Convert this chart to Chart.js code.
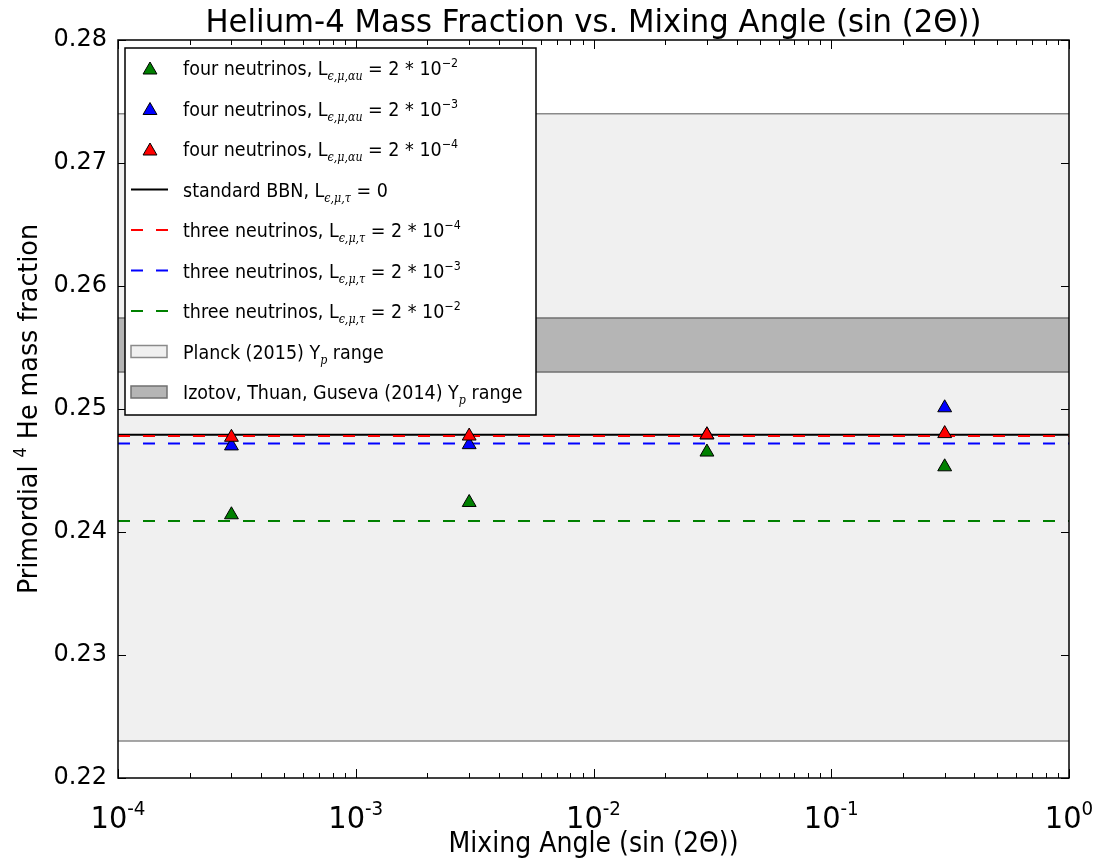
<!DOCTYPE html>
<html>
<head>
<meta charset="utf-8">
<script src="https://cdn.jsdelivr.net/npm/chart.js@4.4.1/dist/chart.umd.min.js"></script>
<style>
  html, body { margin: 0; padding: 0; background: #fff; }
  #wrap { width: 1096px; height: 861px; }
</style>
</head>
<body>
<div id="wrap"><canvas id="chart"></canvas></div>
<script>
// mixing angle sin(2θ) for the four-neutrino runs
const mixingAngles = [3e-4, 3e-3, 3e-2, 3e-1]
const fourNuL2e2 = [0.2414, 0.2424, 0.2465, 0.2453]
const fourNuL2e3 = [0.2470, 0.2471, 0.2479, 0.2501]
const fourNuL2e4 = [0.2477, 0.2478, 0.2479, 0.2480]

// horizontal reference values
const standardBBN = 0.2479
const threeNuL2e4 = 0.2478
const threeNuL2e3 = 0.2472
const threeNuL2e2 = 0.2409
const planckRange = [0.223, 0.274]
const izotovRange = [0.2530, 0.2574]
const xRange = [1e-4, 1]

const yTicks = [0.22, 0.23, 0.24, 0.25, 0.26, 0.27, 0.28]
const yTickLabels = ['0.22', '0.23', '0.24', '0.25', '0.26', '0.27', '0.28']
const xTicks = [1e-4, 1e-3, 1e-2, 1e-1, 1]
const xTickExponents = ['-4', '-3', '-2', '-1', '0']

const title = 'Helium-4 Mass Fraction vs. Mixing Angle (sin (2Θ))'
const xTitle = 'Mixing Angle (sin (2Θ))'
const yTitle = 'Primordial ^{4} He mass fraction'
const legendLabels = [
  'four neutrinos, L_{ϵ,μ,αu} = 2 * 10^{−2}',
  'four neutrinos, L_{ϵ,μ,αu} = 2 * 10^{−3}',
  'four neutrinos, L_{ϵ,μ,αu} = 2 * 10^{−4}',
  'standard BBN, L_{ϵ,μ,τ} = 0',
  'three neutrinos, L_{ϵ,μ,τ} = 2 * 10^{−4}',
  'three neutrinos, L_{ϵ,μ,τ} = 2 * 10^{−3}',
  'three neutrinos, L_{ϵ,μ,τ} = 2 * 10^{−2}',
  'Planck (2015) Y_{p} range',
  'Izotov, Thuan, Guseva (2014) Y_{p} range'
]

const GREEN = '#008000'
const BLUE = '#0000ff'
const RED = '#ff0000'
const PLANCK_FILL = '#f0f0f0'
const PLANCK_EDGE = '#8a8a8a'
const IZOTOV_FILL = '#b5b5b5'
const IZOTOV_EDGE = '#707070'
const DASH = [12, 13]
const FONT = '"DejaVu Sans"'

const hline = (y) => xRange.map((x) => ({ x, y }))
const points = (ys) => mixingAngles.map((x, i) => ({ x, y: ys[i] }))

function lineSet (label, y, color, dash, order) {
  return {
    label,
    data: hline(y),
    showLine: true,
    borderColor: color,
    borderWidth: 2,
    borderDash: dash,
    pointRadius: 0,
    fill: false,
    order
  }
}

function bandSet (label, y, edge, fill, order) {
  return {
    label,
    data: hline(y),
    showLine: true,
    borderColor: edge,
    borderWidth: 1.5,
    backgroundColor: fill,
    pointRadius: 0,
    fill: fill ? '+1' : false,
    order
  }
}

function markerSet (label, ys, color, order) {
  return {
    label,
    data: points(ys),
    pointStyle: 'triangle',
    pointRadius: 8,
    pointHoverRadius: 8,
    backgroundColor: color,
    borderColor: '#000',
    borderWidth: 1,
    order
  }
}

// ---- rich text helpers (sub/superscripts, horizontal squeeze) ----
function parseRich (s) {
  const runs = []
  const re = /([_^])\{([^}]*)\}/g
  let last = 0
  let m
  while ((m = re.exec(s))) {
    if (m.index > last) runs.push({ text: s.slice(last, m.index), kind: 'n' })
    runs.push({ text: m[2], kind: m[1] === '_' ? 'sub' : 'sup' })
    last = re.lastIndex
  }
  if (last < s.length) runs.push({ text: s.slice(last), kind: 'n' })
  return runs
}

function runFont (kind, size) {
  if (kind === 'sub') return `italic ${Math.round(size * 0.62)}px "DejaVu Serif"`
  if (kind === 'sup') return `${Math.round(size * 0.62)}px ${FONT}`
  return `${size}px ${FONT}`
}

function runShift (kind, size) {
  if (kind === 'sub') return size * 0.28
  if (kind === 'sup') return -size * 0.42
  return 0
}

function measureRich (ctx, runs, size) {
  let w = 0
  for (const r of runs) {
    ctx.font = runFont(r.kind, size)
    w += ctx.measureText(r.text).width
  }
  return w
}

// draws runs starting at x (left), baseline y, squeezed by sx
function drawRich (ctx, runs, x, y, size, sx, color) {
  ctx.save()
  ctx.translate(x, y)
  ctx.scale(sx, 1)
  ctx.fillStyle = color || '#000'
  ctx.textAlign = 'left'
  ctx.textBaseline = 'alphabetic'
  let cx = 0
  for (const r of runs) {
    ctx.font = runFont(r.kind, size)
    ctx.fillText(r.text, cx, runShift(r.kind, size))
    cx += ctx.measureText(r.text).width
  }
  ctx.restore()
}

const decor = {
  id: 'decor',
  beforeDraw (chart) {
    const ctx = chart.ctx
    ctx.save()
    ctx.fillStyle = '#fff'
    ctx.fillRect(0, 0, chart.width, chart.height)
    ctx.restore()
  },
  afterDraw (chart) {
    const ctx = chart.ctx
    const { left, right, top, bottom } = chart.chartArea
    const xs = chart.scales.x
    const ys = chart.scales.y

    ctx.save()
    // ticks, pointing inwards on all four sides
    ctx.strokeStyle = '#000'
    ctx.lineWidth = 1
    ctx.beginPath()
    yTicks.forEach((v) => {
      const py = Math.round(ys.getPixelForValue(v)) + 0.5
      ctx.moveTo(left, py); ctx.lineTo(left + 8, py)
      ctx.moveTo(right, py); ctx.lineTo(right - 8, py)
    })
    for (let d = -4; d <= 0; d++) {
      for (let k = 1; k <= 9; k++) {
        const v = k * Math.pow(10, d)
        if (v > xRange[1]) break
        const px = Math.round(xs.getPixelForValue(v)) + 0.5
        const len = k === 1 ? 9 : 5
        ctx.moveTo(px, bottom); ctx.lineTo(px, bottom - len)
        ctx.moveTo(px, top); ctx.lineTo(px, top + len)
      }
    }
    ctx.stroke()

    // frame
    ctx.lineWidth = 1.5
    ctx.strokeRect(left, top, right - left, bottom - top)

    // y tick labels
    ctx.fillStyle = '#000'
    ctx.font = `24px ${FONT}`
    ctx.textAlign = 'right'
    ctx.textBaseline = 'middle'
    yTicks.forEach((v, i) => {
      ctx.fillText(yTickLabels[i], left - 11, ys.getPixelForValue(v))
    })

    // x tick labels: 10^n
    const xRuns = xTickExponents.map((e) => parseRich(`10^{${e}}`))
    const xSize = 30
    const xSx = 55 / measureRich(ctx, xRuns[0], xSize)
    xTicks.forEach((v, i) => {
      const w = measureRich(ctx, xRuns[i], xSize) * xSx
      drawRich(ctx, xRuns[i], xs.getPixelForValue(v) - w / 2, bottom + 50, xSize, xSx)
    })

    // title and axis titles
    const tRuns = parseRich(title)
    const tSx = 776 / measureRich(ctx, tRuns, 32)
    drawRich(ctx, tRuns, (left + right) / 2 - 388, 32, 32, tSx)

    const xtRuns = parseRich(xTitle)
    const xtSx = 290 / measureRich(ctx, xtRuns, 29)
    drawRich(ctx, xtRuns, (left + right) / 2 - 145, 852, 29, xtSx)

    const ytRuns = parseRich(yTitle)
    const ytSx = 370 / measureRich(ctx, ytRuns, 27)
    ctx.save()
    ctx.translate(37, (top + bottom) / 2)
    ctx.rotate(-Math.PI / 2)
    drawRich(ctx, ytRuns, -185, 0, 27, ytSx)
    ctx.restore()

    // legend
    const lx = 125
    const ly = 48
    const lw = 411
    const lh = 367
    ctx.fillStyle = '#fff'
    ctx.fillRect(lx, ly, lw, lh)
    ctx.strokeStyle = '#000'
    ctx.lineWidth = 1.5
    ctx.strokeRect(lx, ly, lw, lh)

    const handles = [
      { type: 'marker', color: GREEN },
      { type: 'marker', color: BLUE },
      { type: 'marker', color: RED },
      { type: 'line', color: '#000', dash: [] },
      { type: 'line', color: RED, dash: DASH },
      { type: 'line', color: BLUE, dash: DASH },
      { type: 'line', color: GREEN, dash: DASH },
      { type: 'patch', fill: PLANCK_FILL, edge: PLANCK_EDGE },
      { type: 'patch', fill: IZOTOV_FILL, edge: IZOTOV_EDGE }
    ]
    const lSize = 19
    const lRuns = legendLabels.map(parseRich)
    const lSx = 275 / measureRich(ctx, lRuns[0], lSize)
    lRuns.forEach((runs, i) => {
      const cy = 68 + i * 40.5
      const h = handles[i]
      ctx.save()
      if (h.type === 'marker') {
        ctx.fillStyle = h.color
        ctx.strokeStyle = '#000'
        ctx.lineWidth = 1
        Chart.helpers.drawPoint(ctx, { pointStyle: 'triangle', radius: 8, borderWidth: 1 }, 150, cy + 2)
      } else if (h.type === 'line') {
        ctx.strokeStyle = h.color
        ctx.lineWidth = 2
        ctx.setLineDash(h.dash)
        ctx.beginPath()
        ctx.moveTo(131, cy); ctx.lineTo(168, cy)
        ctx.stroke()
      } else {
        ctx.fillStyle = h.fill
        ctx.strokeStyle = h.edge
        ctx.lineWidth = 1.5
        ctx.fillRect(131, cy - 6, 36, 12)
        ctx.strokeRect(131, cy - 6, 36, 12)
      }
      ctx.restore()
      drawRich(ctx, runs, 183, cy + 7, lSize, lSx)
    })
    ctx.restore()
  }
}

const ctx = document.getElementById('chart')

new Chart(ctx, {
  type: 'scatter',
  data: {
    datasets: [
      bandSet('Planck (2015) Yp range', planckRange[1], PLANCK_EDGE, PLANCK_FILL, 20),
      bandSet('Planck lower', planckRange[0], PLANCK_EDGE, null, 19),
      bandSet('Izotov, Thuan, Guseva (2014) Yp range', izotovRange[1], IZOTOV_EDGE, IZOTOV_FILL, 18),
      bandSet('Izotov lower', izotovRange[0], IZOTOV_EDGE, null, 17),
      lineSet('standard BBN', standardBBN, '#000', [], 16),
      lineSet('three neutrinos 2e-4', threeNuL2e4, RED, DASH, 15),
      lineSet('three neutrinos 2e-3', threeNuL2e3, BLUE, DASH, 14),
      lineSet('three neutrinos 2e-2', threeNuL2e2, GREEN, DASH, 13),
      markerSet('four neutrinos 2e-2', fourNuL2e2, GREEN, 3),
      markerSet('four neutrinos 2e-3', fourNuL2e3, BLUE, 2),
      markerSet('four neutrinos 2e-4', fourNuL2e4, RED, 1)
    ]
  },
  options: {
    responsive: true,
    maintainAspectRatio: false,
    animation: {
      duration: 0
    },
    events: [],
    layout: {
      padding: { left: 118, right: 27, top: 40, bottom: 83 }
    },
    scales: {
      x: {
        type: 'logarithmic',
        min: xRange[0],
        max: xRange[1],
        display: false
      },
      y: {
        type: 'linear',
        min: 0.22,
        max: 0.28,
        display: false
      }
    },
    plugins: {
      legend: { display: false },
      title: { display: false },
      tooltip: { enabled: false }
    }
  },
  plugins: [decor]
})
</script>
</body>
</html>
